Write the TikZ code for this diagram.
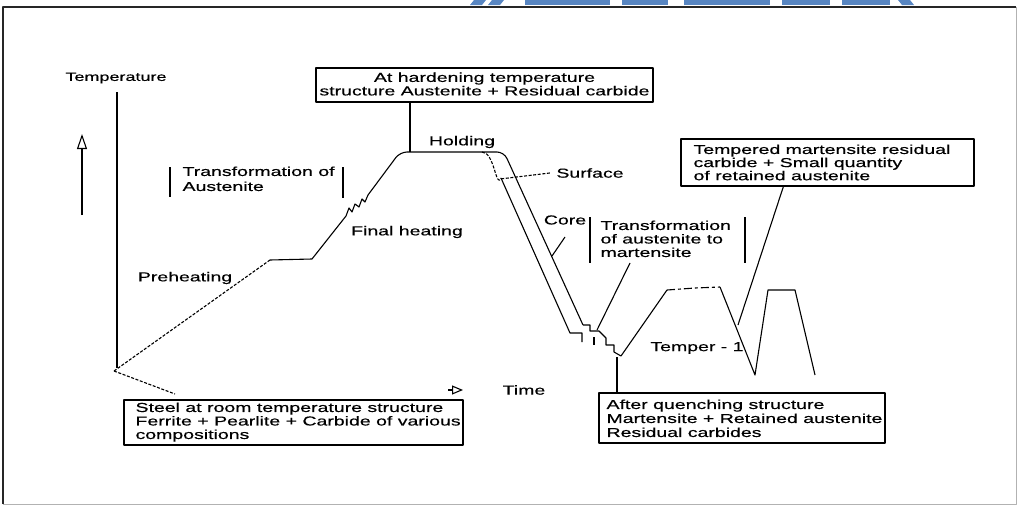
\documentclass[tikz,border=0pt]{standalone}
\usepackage{fontspec}
\setmainfont{Liberation Sans}[FakeStretch=1.5,FakeBold=0.4]
\usetikzlibrary{arrows.meta,calc}
\definecolor{wmblue}{RGB}{88,134,194}
\begin{document}
\begin{tikzpicture}[x=1pt,y=-1pt,line width=1.1pt,line join=round,
  lbl/.style={inner sep=0pt,font=\fontsize{13}{13.5}\selectfont},
  boxtxt/.style={inner sep=0pt,anchor=north west,align=left},
  framebox/.style={draw,line width=1.3pt,inner sep=0pt},
  dashA/.style={dash pattern=on 3pt off 1.6pt},
  dashB/.style={dash pattern=on 8pt off 3pt on 3pt off 3pt},
  wm/.style={fill=wmblue,draw=none}]
\useasboundingbox (0,0) rectangle (1020,506);
% watermark fragment along the top edge
\path[wm] (470,5) -- (474,0) -- (486,0) -- (482,5) -- cycle;
\path[wm] (488,5) -- (492,0) -- (504,0) -- (500,5) -- cycle;
\path[wm] (525,0) rectangle (610,5);
\path[wm] (622,0) rectangle (668,5);
\path[wm] (684,0) rectangle (770,5);
\path[wm] (782,0) rectangle (830,5);
\path[wm] (842,0) rectangle (890,5);
\path[wm] (898,0) -- (910,0) -- (914,5) -- (902,5) -- cycle;
% outer frame
\draw[gray!60,line width=1pt] (1016,7) -- (1016,504) -- (3,504);
\draw[black!85,line width=2pt] (3,504) -- (3,7) -- (1016,7);

% axes
\node[lbl,font=\fontsize{12}{13}\selectfont] (templbl) at (116,78) {Temperature};
\coordinate (axtop) at (117,92);
\coordinate (O) at (114,371);
\draw (axtop) -- (117,368);
\coordinate (upA) at (82,215);
\coordinate (upB) at (82,134);
\draw[-{Triangle[open,length=15pt,width=10pt]}] (upA) -- (upB);
\coordinate (tmA) at (448,390);
\coordinate (tmB) at (463,390);
\draw[-{Triangle[open,length=11pt,width=9pt]}] (tmA) -- (tmB);
\node[lbl] (timelbl) at (524,390) {Time};

% labels
\node[lbl] (preh) at (185,278) {Preheating};
\node[lbl] (finh) at (407,232) {Final heating};
\node[lbl] (hold) at (462,142) {Holding};
\node[lbl] (surf) at (590,173) {Surface};
\node[lbl] (core) at (565,220) {Core};
\node[lbl] (temper) at (697,348) {Temper - 1};
\node[boxtxt,font=\fontsize{13}{15}\selectfont] (tfa) at (182,166) {Transformation of\\Austenite};
\draw (170,167) -- (170,197);
\draw (343,167) -- (343,198);
\node[boxtxt,font=\fontsize{13}{13.5}\selectfont] (tam) at (600,220) {Transformation\\of austenite to\\martensite};
\draw (590,217) -- (590,263);
\draw (745,217) -- (745,263);

% boxes
\node[framebox,minimum width=337pt,minimum height=34pt] (hardbox) at (484.5,85) {};
\node[lbl,align=center] (hardtxt) at (484.5,84) {At hardening temperature\\structure Austenite + Residual carbide};
\node[framebox,minimum width=293pt,minimum height=47pt] (tempbox) at (827.5,162.5) {};
\node[boxtxt,font=\fontsize{13}{12}\selectfont] (temptxt) at (693,144) {Tempered martensite residual\\carbide + Small quantity\\of retained austenite};
\node[framebox,minimum width=286pt,minimum height=50pt] (quenchbox) at (742,418) {};
\node[boxtxt,font=\fontsize{13}{14}\selectfont] (quenchtxt) at (606,399) {After quenching structure\\Martensite + Retained austenite\\Residual carbides};
\node[framebox,minimum width=339pt,minimum height=45pt] (steelbox) at (293.5,422.5) {};
\node[boxtxt,font=\fontsize{13}{13.5}\selectfont] (steeltxt) at (135,402) {Steel at room temperature structure\\Ferrite + Pearlite + Carbide of various\\compositions};

% heating curve
\coordinate (ph) at (270,260);
\draw[dashA] (O) -- (ph);
\draw (ph) -- (312,259) -- (346,216) -- (349,208) -- (352,212) -- (355,204) -- (359,207) -- (362,199) -- (365,202) -- (368,195);
\draw[rounded corners=7pt] (368,195) -- (400,152) -- (504,152) -- (583,325);
% quench: outer (core) line bottom steps
\draw (583,325) -- (590,325) -- (590,331) -- (599,331) -- (606,338) -- (606,345) -- (614,345) -- (614,352) -- (621,356);
% inner (surface) line
\draw[dashA] (482,152) to[out=0,in=246] (501,178);
\draw (501,178) -- (570,333) -- (582,333) -- (582,342);
\draw (594,337) -- (594,345);
% tempering
\coordinate (tq) at (621,356);
\draw (tq) -- (667,290);
\draw[dashB] (667,290) -- (695,288) -- (720,287);
\draw (720,287) -- (755,375) -- (768,290) -- (795,290) -- (815,375);

% pointers
\coordinate (holdpt) at (410,152);
\draw (holdpt |- hardbox.south) -- (holdpt);
\coordinate (sfpt) at (500,179);
\draw[dashA] ([xshift=-6pt]surf.west) -- (sfpt);
\coordinate (cp1) at (565,237);
\coordinate (cp2) at (552,256);
\draw (cp1) -- (cp2);
\coordinate (tm1) at (630,263);
\coordinate (tm2) at (597,330);
\draw (tm1) -- (tm2);
\coordinate (tp) at (738,325);
\draw ($(tempbox.south west)!0.35!(tempbox.south east)$) -- (tp);
\coordinate (qp) at (617,357);
\draw (qp) -- (qp |- quenchbox.north);
\coordinate (sp) at (175,394);
\draw[dashA] (O) -- (sp);
\end{tikzpicture}
\end{document}
